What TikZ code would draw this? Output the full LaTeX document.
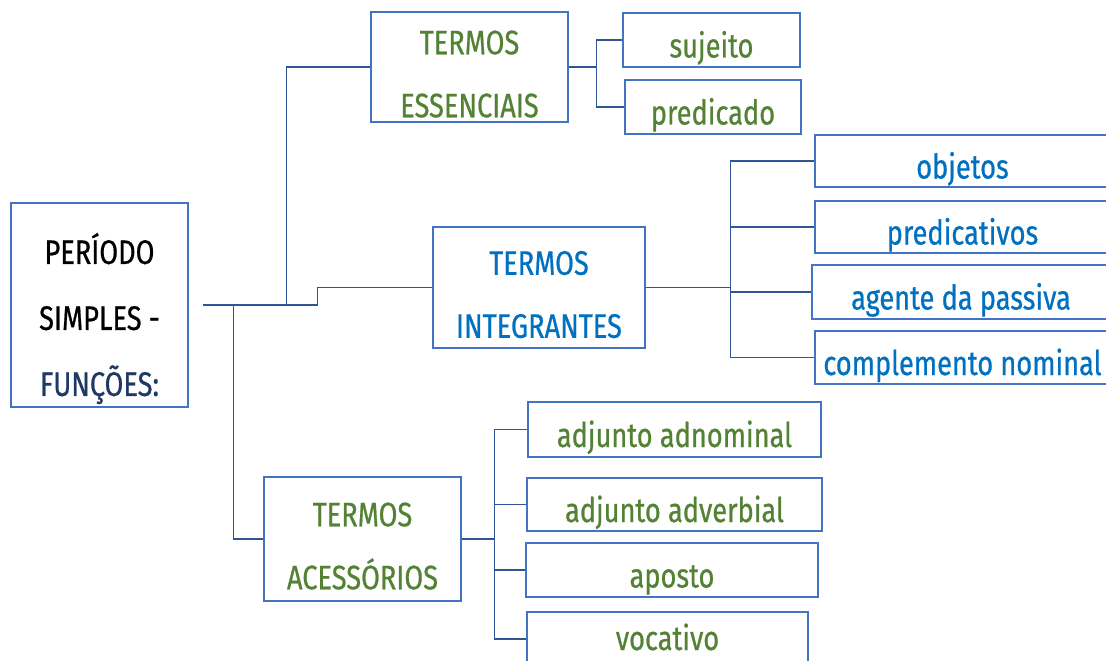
\documentclass[tikz,border=0pt]{standalone}
\usepackage{fontspec}
\setmainfont[FakeStretch=0.8,FakeBold=0.6]{Fira Sans}
\usepackage{tikz}
\definecolor{boxblue}{HTML}{4472C4}
\definecolor{linkblue}{HTML}{2F5597}
\definecolor{termgreen}{HTML}{548235}
\definecolor{termblue}{HTML}{0070C0}
\definecolor{navy}{HTML}{1F3864}
\newcommand{\tstrut}[1]{\rule{0pt}{#1}}

\begin{document}
\begin{tikzpicture}[x=1pt,y=-1pt]
\tikzstyle{every node}=[font=\fontsize{34}{63}\selectfont]
\tikzstyle{box}=[draw=boxblue, line width=1.2pt, inner sep=0pt, align=center]
\tikzstyle{oneline}=[box, text height=40pt, text depth=5pt]
\tikzstyle{conn}=[draw=linkblue, line width=1.1pt]
\fill[white] (0,0) rectangle (1106,661);
\useasboundingbox (0,0) rectangle (1106,661);
% main box
\node [box, font=\fontsize{34}{66}\selectfont, minimum width=177pt, minimum height=204pt] (periodo) at (99.5,305) {\tstrut{58pt}PERÍODO\\SIMPLES -\\\textcolor{navy}{FUNÇÕES:}};
% second level
\node [box, text=termgreen, minimum width=197pt, minimum height=110pt] (essenciais) at (469.5,67) {\tstrut{38pt}TERMOS\\ESSENCIAIS};
\node [box, text=termblue, minimum width=212pt, minimum height=121pt] (integrantes) at (539,287.5) {\tstrut{38pt}TERMOS\\INTEGRANTES};
\node [box, text=termgreen, minimum width=197pt, minimum height=124pt] (acessorios) at (362.5,539) {\tstrut{38pt}TERMOS\\ACESSÓRIOS};
% third level
\node [oneline, text=termgreen, minimum width=177pt, minimum height=54pt] (sujeito) at (711.5,40) {sujeito};
\node [oneline, text=termgreen, minimum width=176pt, minimum height=54pt] (predicado) at (713,107) {predicado};
\node [oneline, text=termblue, minimum width=295pt, minimum height=52pt] (objetos) at (962.5,161) {objetos};
\node [oneline, text=termblue, minimum width=295pt, minimum height=52pt] (predicativos) at (962.5,227) {predicativos};
\node [oneline, text=termblue, minimum width=298pt, minimum height=54pt] (agente) at (961,292) {agente da passiva};
\node [oneline, text=termblue, minimum width=295pt, minimum height=53pt] (complemento) at (962.5,357.5) {complemento nominal};
\node [oneline, text=termgreen, minimum width=293pt, minimum height=55pt] (adnominal) at (674.5,429.5) {adjunto adnominal};
\node [oneline, text=termgreen, minimum width=295pt, minimum height=53pt] (adverbial) at (674.5,504.5) {adjunto adverbial};
\node [oneline, text=termgreen, minimum width=292pt, minimum height=54pt] (aposto) at (672,570) {aposto};
\node [oneline, text=termgreen, text height=34pt, text depth=12pt, minimum width=281pt, minimum height=54pt] (vocativo) at (667.5,639) {vocativo};
% links
\draw [conn] ([xshift=14pt]periodo.east) -- ++(84,0) |- (essenciais.west);
\draw [conn] ([xshift=98pt]periodo.east) -- ++(31,0) |- (integrantes.west);
\draw [conn] ([xshift=45pt]periodo.east) |- (acessorios.west);
\draw [conn] (essenciais.east) -- ++(28,0) coordinate (e1);
\draw [conn] (e1) |- (sujeito.west);
\draw [conn] (e1) |- (predicado.west);
\draw [conn] (integrantes.east) -- ++(85,0) coordinate (i1);
\draw [conn] (i1) |- (objetos.west);
\draw [conn] (i1) |- (predicativos.west);
\draw [conn] (i1) |- (agente.west);
\draw [conn] (i1) |- (complemento.west);
\draw [conn] (acessorios.east) -- ++(33,0) coordinate (a1);
\draw [conn] (a1) |- (adnominal.west);
\draw [conn] (a1) |- (adverbial.west);
\draw [conn] (a1) |- (aposto.west);
\draw [conn] (a1) |- (vocativo.west);
\end{tikzpicture}
\end{document}
